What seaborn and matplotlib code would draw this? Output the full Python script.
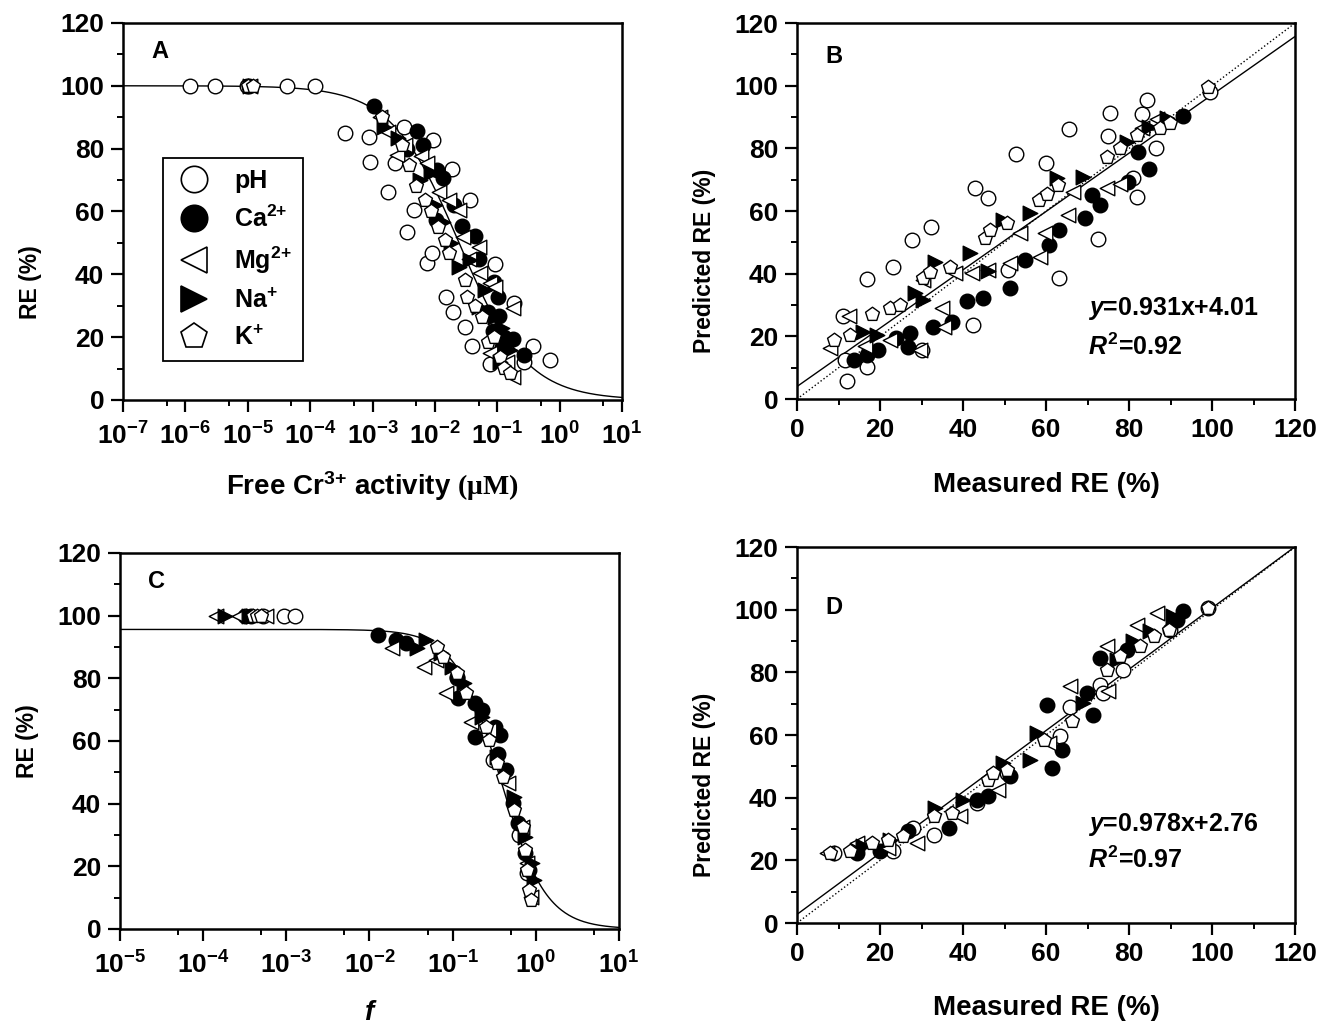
import numpy as np
import matplotlib
matplotlib.use('Agg')
import matplotlib.pyplot as plt
import seaborn as sns
from matplotlib.ticker import MultipleLocator, FixedLocator, FuncFormatter, NullFormatter
from matplotlib.lines import Line2D

# ---- data ----
series = ['pH', 'Ca$^{2{+}}$', 'Mg$^{2{+}}$', 'Na$^{+}$', 'K$^{+}$']

# panel A: log10(free Cr3+ activity, uM) and RE (%)
a_ph_logx = [-5.93, -5.53, -5.02, -4.37, -3.92, -3.44, -3.05, -3.04, -2.76, -2.64, -2.49, -2.45, -2.34, -2.03,
             -2.12, -2.04, -1.73, -1.44, -1.82, -1.71, -1.52, -1.41, -1.12, -1.03, -0.73, -0.43, -0.15, -0.57]
a_ph_re = [100, 100, 100, 100, 100, 85.1, 83.8, 75.9, 66.1, 75.3, 87.0, 53.4, 60.5, 82.8,
           43.7, 46.9, 73.4, 63.7, 32.7, 28.1, 23.3, 17.3, 11.5, 43.2, 30.8, 17.3, 12.7, 12.2]
a_ca_logx = [-4.98, -2.98, -2.28, -2.19, -1.96, -1.87, -1.99, -1.57, -1.36, -1.29, -1.05, -0.99, -0.97,
             -1.07, -0.89, -0.93, -0.75, -0.57, -2.45, -1.70, -1.15]
a_ca_re = [100, 93.7, 85.6, 81.2, 73.2, 70.6, 57.3, 55.5, 52.3, 44.9, 37.5, 32.9, 26.8,
           22.0, 20.2, 17.0, 19.3, 14.3, 80.0, 62.0, 28.0]
a_mg_logx = [-4.97, -2.88, -2.76, -2.48, -2.22, -2.13, -1.93, -1.78, -1.61, -1.55, -1.29, -1.27, -1.12,
             -1.03, -0.75, -1.12, -0.75, -0.85, -2.60, -1.45]
a_mg_re = [100, 90.2, 85.4, 81.2, 77.5, 75.3, 66.3, 63.7, 60.5, 52.0, 48.8, 40.3, 37.1,
           36.1, 29.2, 14.9, 7.4, 12.0, 78.0, 45.0]
a_na_logx = [-4.96, -2.82, -2.59, -2.24, -2.07, -1.87, -1.61, -1.44, -1.29, -1.03, -0.92, -0.86, -0.80,
             -2.00, -1.75, -1.20, -0.95]
a_na_re = [100, 87.0, 83.3, 70.0, 72.1, 56.8, 42.4, 44.6, 29.7, 26.5, 22.8, 18.0, 15.9,
           62.0, 50.0, 35.0, 12.0]
a_k_logx = [-5.00, -4.92, -2.85, -2.53, -2.42, -2.16, -2.07, -1.84, -1.78, -1.52, -1.49, -1.24, -1.15,
            -0.95, -0.89, -0.80, -2.30, -1.95, -1.35, -1.05]
a_k_re = [100, 100, 90.2, 81.2, 74.8, 63.7, 60.0, 50.9, 46.7, 38.2, 32.9, 26.5, 18.6,
          13.8, 10.1, 8.5, 68.0, 55.0, 30.0, 20.0]

# panel B: measured vs predicted RE (%)
b_ph_x = [11.0, 12.1, 16.9, 16.9, 23.0, 27.6, 32.2, 30.0, 42.5, 42.9, 46.1, 50.9, 52.8, 60.0, 63.2, 65.6,
          72.6, 75.0, 75.3, 81.8, 83.1, 84.4, 86.5, 81.0, 99.5, 11.6]
b_ph_y = [26.5, 5.9, 10.1, 38.2, 42.0, 50.7, 55.0, 15.6, 23.6, 67.4, 64.3, 41.2, 78.2, 75.2, 38.5, 86.1,
          51.1, 83.9, 91.2, 64.4, 91.0, 95.4, 80.0, 70.4, 98.0, 12.4]
b_ca_x = [13.6, 16.9, 19.4, 23.9, 26.8, 27.2, 32.7, 37.3, 40.9, 44.7, 51.3, 54.9, 60.6, 63.2, 69.4, 71.0,
          72.9, 79.8, 84.7, 93.1, 82.2]
b_ca_y = [12.4, 14.0, 15.6, 19.4, 16.7, 21.0, 23.1, 24.7, 31.3, 32.4, 35.3, 44.4, 49.1, 53.9, 57.7, 65.1,
          61.9, 69.4, 73.3, 90.3, 78.9]
b_mg_x = [8.0, 12.4, 16.4, 22.4, 29.6, 34.9, 35.3, 46.1, 51.3, 42.1, 58.6, 59.8, 65.4, 66.6, 74.6, 77.8,
          83.1, 86.7, 38.1, 53.7, 30.4]
b_mg_y = [16.2, 26.6, 16.9, 18.8, 15.6, 28.9, 23.1, 41.2, 43.3, 40.1, 45.4, 52.9, 58.7, 66.2, 67.2, 68.6,
          86.4, 89.3, 40.1, 52.9, 38.0]
b_na_x = [16.0, 19.2, 28.4, 30.4, 33.3, 41.7, 49.7, 56.1, 62.6, 69.0, 79.4, 84.7, 89.1, 46.0]
b_na_y = [21.5, 20.4, 33.7, 31.6, 43.8, 46.5, 57.3, 59.3, 70.4, 71.0, 82.1, 86.9, 89.6, 41.0]
b_k_x = [8.8, 12.8, 18.0, 22.4, 24.8, 30.4, 32.0, 36.9, 45.3, 46.5, 50.5, 58.2, 60.2, 62.9, 74.6, 77.8,
         81.8, 87.5, 89.9, 99.1]
b_k_y = [19.0, 20.4, 27.1, 28.9, 30.0, 38.5, 40.6, 42.2, 51.3, 53.9, 56.1, 63.5, 65.6, 68.3, 77.3, 80.0,
         84.3, 86.4, 88.0, 99.7]

# panel C: log10(f) and RE (%)
c_ph_logx = [-3.03, -2.90, -3.28, -0.52, -0.95, -0.20, -0.10]
c_ph_re = [100, 100, 100, 53.9, 80.0, 30.0, 18.0]
c_ca_logx = [-3.50, -3.42, -1.90, -1.68, -1.56, -0.95, -0.93, -0.73, -0.65, -0.49, -0.43, -0.73, -0.45,
             -0.36, -0.28, -0.21, -0.13, -0.08]
c_ca_re = [100, 100, 93.8, 92.2, 91.4, 80.5, 73.6, 72.0, 69.9, 64.6, 61.9, 61.4, 56.0,
           50.7, 40.1, 33.7, 24.1, 18.8]
c_mg_logx = [-3.85, -3.57, -3.25, -1.73, -1.34, -1.08, -0.78, -0.56, -0.34, -0.17, -0.10, -0.06, -1.20]
c_mg_re = [100, 100, 100, 89.6, 83.7, 75.2, 66.2, 63.5, 46.5, 32.7, 21.0, 10.3, 86.0]
c_na_logx = [-3.74, -3.45, -1.32, -1.43, -1.14, -1.01, -0.86, -0.65, -0.47, -0.26, -0.13, -0.04, -0.02]
c_na_re = [100, 100, 92.2, 89.6, 88.0, 83.7, 78.4, 67.8, 55.0, 42.2, 29.5, 21.0, 15.6]
c_k_logx = [-3.40, -3.35, -3.30, -1.19, -1.12, -0.95, -0.84, -0.60, -0.56, -0.47, -0.39, -0.26, -0.15,
            -0.13, -0.10, -0.08, -0.06]
c_k_re = [100, 100, 100, 90.1, 86.9, 81.6, 75.2, 64.6, 60.3, 52.9, 48.6, 38.0, 32.7,
          25.2, 18.8, 12.4, 9.3]

# panel D: measured vs predicted RE (%)
d_ph_x = [8.8, 23.2, 28.0, 32.9, 65.8, 63.4, 73.0, 73.8, 78.6, 89.9, 99.1, 50.5, 43.3, 14.0]
d_ph_y = [22.3, 22.9, 30.3, 28.2, 69.1, 59.6, 76.0, 73.4, 80.9, 93.6, 100.5, 47.9, 38.3, 23.0]
d_ca_x = [14.4, 20.0, 26.8, 36.5, 43.3, 51.3, 61.4, 63.8, 60.2, 69.8, 71.4, 73.0, 79.4, 93.1, 91.5, 46.1]
d_ca_y = [22.3, 22.9, 29.3, 30.3, 39.4, 46.8, 49.5, 55.3, 69.7, 73.4, 66.5, 84.6, 87.2, 99.5, 96.8, 40.4]
d_mg_x = [7.1, 14.4, 28.8, 39.3, 48.5, 60.6, 65.8, 74.6, 75.0, 81.8, 86.7, 22.0]
d_mg_y = [22.3, 25.5, 25.5, 34.0, 42.6, 57.4, 75.5, 88.3, 73.9, 95.2, 98.9, 24.0]
d_na_x = [16.0, 22.4, 33.3, 40.1, 49.7, 56.1, 57.8, 69.0, 81.0, 85.1, 90.7, 77.0]
d_na_y = [24.5, 26.6, 36.7, 39.4, 51.1, 52.1, 60.6, 70.2, 89.9, 93.1, 97.9, 84.0]
d_k_x = [8.0, 12.8, 18.0, 22.0, 25.6, 32.9, 37.3, 46.1, 47.3, 50.5, 59.4, 66.2, 74.6, 77.8, 82.7, 85.9,
         89.5, 99.1]
d_k_y = [22.3, 22.9, 25.5, 26.6, 27.7, 34.0, 35.1, 45.7, 47.9, 48.9, 58.5, 64.4, 80.9, 85.1, 88.3, 91.5,
         93.6, 100.5]

# fitted model parameters / regression lines
fit_a = (100.0, 0.0244, 0.80)   # RE = top / (1 + (x/K)^n)
fit_c = (95.6, 0.376, 1.6)
reg_b = (0.931, 4.01)
reg_d = (0.978, 2.76)

# ---- style ----
sns.set_style('ticks')
plt.rcParams['font.family'] = ['Liberation Sans', 'DejaVu Sans']
plt.rcParams['font.weight'] = 'bold'
plt.rcParams['mathtext.fontset'] = 'custom'
plt.rcParams['mathtext.rm'] = 'Liberation Sans:bold'
plt.rcParams['mathtext.bf'] = 'Liberation Sans:bold'
plt.rcParams['mathtext.it'] = 'Liberation Sans:bold:italic'
plt.rcParams['mathtext.sf'] = 'Liberation Serif:bold'
plt.rcParams['mathtext.default'] = 'rm'
for k in ['axes.edgecolor', 'xtick.color', 'ytick.color', 'text.color', 'axes.labelcolor']:
    plt.rcParams[k] = 'black'

markers = ['o', 'o', '<', '>', 'p']
faces = ['white', 'black', 'white', 'black', 'white']

fig = plt.figure(figsize=(13.26, 10.29), dpi=100)
axA = fig.add_axes([0.0928, 0.6113, 0.3763, 0.3664])
axB = fig.add_axes([0.6011, 0.6122, 0.3756, 0.3654])
axC = fig.add_axes([0.0905, 0.0972, 0.3763, 0.3654])
axD = fig.add_axes([0.6011, 0.1030, 0.3756, 0.3654])


def style(ax, logx=None):
    for s in ax.spines.values():
        s.set_linewidth(1.8)
    ax.set_ylim(0, 120)
    ax.yaxis.set_major_locator(MultipleLocator(20))
    ax.yaxis.set_minor_locator(MultipleLocator(10))
    xpad = 5
    if logx is None:
        ax.set_xlim(0, 120)
        ax.xaxis.set_major_locator(MultipleLocator(20))
        ax.xaxis.set_minor_locator(MultipleLocator(10))
    else:
        xpad = 8
        ax.set_xscale('log')
        ax.set_xlim(10.0 ** logx[0], 10.0 ** logx[1])
        dec = np.arange(logx[0], logx[1] + 1)
        ax.xaxis.set_major_locator(FixedLocator(10.0 ** dec))
        ax.xaxis.set_minor_locator(FixedLocator(5 * 10.0 ** dec[:-1]))
        ax.xaxis.set_major_formatter(FuncFormatter(lambda v, p: r'$10^{%d}$' % round(np.log10(v))))
        ax.xaxis.set_minor_formatter(NullFormatter())
    ax.tick_params(which='major', direction='out', length=8.5, width=1.6, labelsize=19, pad=5,
                   top=False, right=False)
    ax.tick_params(axis='x', which='major', pad=xpad)
    ax.tick_params(which='minor', direction='out', length=4.5, width=1.4, top=False, right=False)
    for t in ax.get_xticklabels() + ax.get_yticklabels():
        t.set_fontweight('bold')


def scatter(ax, xs, ys):
    for x, y, m, fc in zip(xs, ys, markers, faces):
        sns.scatterplot(x=x, y=y, ax=ax, marker=m, s=110, color=fc, edgecolor='black',
                        linewidth=1.0, legend=False, zorder=3, clip_on=False)


def labels(ax, xl, yl, ypos, letter, lety, xpad):
    ax.set_xlabel(xl, fontsize=20, fontweight='bold', labelpad=xpad)
    ax.set_ylabel(yl, fontsize=16.5, fontweight='bold', labelpad=13)
    ax.yaxis.label.set_y(ypos)
    ax.text(0.056, lety, letter, transform=ax.transAxes, fontsize=17, fontweight='bold', va='center')


# panel A
style(axA, (-7, 1))
xa = np.logspace(-7, 1, 400)
axA.plot(xa, fit_a[0] / (1 + (xa / fit_a[1]) ** fit_a[2]), color='black', lw=1.0)
scatter(axA, [10.0 ** np.array(v) for v in [a_ph_logx, a_ca_logx, a_mg_logx, a_na_logx, a_k_logx]],
        [a_ph_re, a_ca_re, a_mg_re, a_na_re, a_k_re])
labels(axA, r'Free Cr$^{3{+}}$ activity $\mathsf{(μM)}$', 'RE (%)', 0.313, 'A', 0.923, 14)
handles = [Line2D([], [], marker=m, linestyle='', markersize=19, markerfacecolor=fc,
                  markeredgecolor='black', markeredgewidth=1.2) for m, fc in zip(markers, faces)]
leg = axA.legend(handles, series, loc='upper left', bbox_to_anchor=(0.08, 0.642), borderaxespad=0,
                 fancybox=False, edgecolor='black', framealpha=1, prop={'size': 18, 'weight': 'bold'},
                 labelspacing=0.5, handletextpad=0.8, borderpad=0.45, handlelength=1.6)
leg.get_frame().set_linewidth(1.3)

# panel B
style(axB)
xl = np.array([0, 120])
axB.plot(xl, reg_b[0] * xl + reg_b[1], color='black', lw=1.0)
axB.plot(xl, xl, color='black', lw=1.0, ls=':')
scatter(axB, [b_ph_x, b_ca_x, b_mg_x, b_na_x, b_k_x], [b_ph_y, b_ca_y, b_mg_y, b_na_y, b_k_y])
labels(axB, 'Measured RE (%)', 'Predicted RE (%)', 0.367, 'B', 0.91, 22)
axB.text(0.585, 0.242, r'$\mathit{y}$=0.931x+4.01', transform=axB.transAxes, fontsize=18,
         fontweight='bold', va='center')
axB.text(0.585, 0.138, r'$\mathit{R}^{2}$=0.92', transform=axB.transAxes, fontsize=18,
         fontweight='bold', va='center')

# panel C
style(axC, (-5, 1))
xc = np.logspace(-5, 1, 400)
axC.plot(xc, fit_c[0] / (1 + (xc / fit_c[1]) ** fit_c[2]), color='black', lw=1.0)
scatter(axC, [10.0 ** np.array(v) for v in [c_ph_logx, c_ca_logx, c_mg_logx, c_na_logx, c_k_logx]],
        [c_ph_re, c_ca_re, c_mg_re, c_na_re, c_k_re])
labels(axC, 'f', 'RE (%)', 0.5, 'C', 0.923, 15)
axC.xaxis.label.set_fontstyle('italic')

# panel D
style(axD)
axD.plot(xl, reg_d[0] * xl + reg_d[1], color='black', lw=1.0)
axD.plot(xl, xl, color='black', lw=1.0, ls=':')
scatter(axD, [d_ph_x, d_ca_x, d_mg_x, d_na_x, d_k_x], [d_ph_y, d_ca_y, d_mg_y, d_na_y, d_k_y])
labels(axD, 'Measured RE (%)', 'Predicted RE (%)', 0.367, 'D', 0.84, 21)
axD.text(0.585, 0.263, r'$\mathit{y}$=0.978x+2.76', transform=axD.transAxes, fontsize=18,
         fontweight='bold', va='center')
axD.text(0.585, 0.168, r'$\mathit{R}^{2}$=0.97', transform=axD.transAxes, fontsize=18,
         fontweight='bold', va='center')

fig.savefig('out.png', dpi=100)
